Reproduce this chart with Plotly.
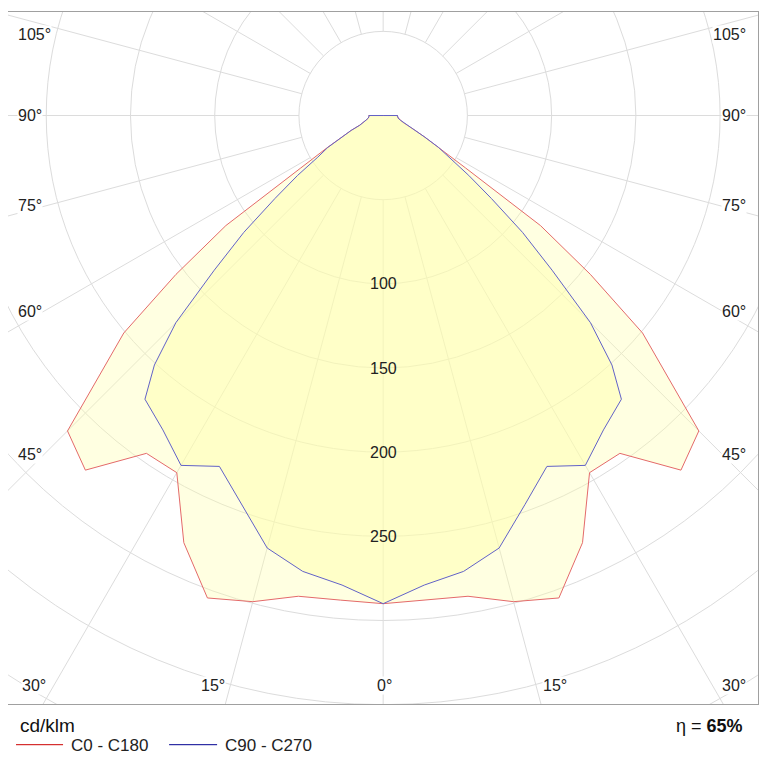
import numpy as np
import plotly.graph_objects as go

# luminous intensity (cd/klm), symmetric halves
gamma_c0 = [0, 5, 10, 15, 20, 25, 30, 35, 40, 45, 50, 52.5, 55, 57.5, 60,
            62.5, 65, 67.5, 70, 75, 80, 85, 90, 180]
cd_c0 = [290, 289, 290, 299, 305, 280, 245, 245, 275, 265, 201, 155, 114, 58, 39,
         28, 21, 15, 13, 10.5, 9, 8.5, 8.5, 0]

gamma_c90 = [0, 5, 10, 15, 20, 25, 30, 35, 40, 42.5, 45, 47.5, 50, 52.5, 55, 57.5,
             60, 62.5, 65, 67.5, 70, 75, 80, 85, 90, 180]
cd_c90 = [290, 280, 275, 266, 246, 230, 240, 228, 220, 201, 174, 136, 108, 81, 62, 46,
          38, 28, 21, 15, 13, 10.5, 9, 8.5, 8.5, 0]

grid_radii = [50, 100, 150, 200, 250, 300, 350, 400]
radial_labels = [100, 150, 200, 250]
spoke_angles = list(range(0, 360, 15))

FONT = "Liberation Sans, Arial, sans-serif"
GRID = "#dcdcdc"


def outline(gamma, cd):
    # 0 deg points down, C0/C90 on the right, C180/C270 mirrored on the left
    g = np.radians(gamma)
    r = np.asarray(cd, dtype=float)
    xr = r * np.sin(g)
    yr = -r * np.cos(g)
    x = np.concatenate([xr, -xr[::-1]])
    y = np.concatenate([yr, yr[::-1]])
    return x, y


fig = go.Figure()

x0, y0 = outline(gamma_c0, cd_c0)
fig.add_trace(go.Scatter(x=x0, y=y0, mode="lines", fill="toself",
                         fillcolor="rgba(255,255,170,0.35)",
                         line=dict(color="#e46a6a", width=1),
                         name="C0 - C180", showlegend=False, hoverinfo="skip"))
x90, y90 = outline(gamma_c90, cd_c90)
fig.add_trace(go.Scatter(x=x90, y=y90, mode="lines", fill="toself",
                         fillcolor="rgba(255,255,170,0.45)",
                         line=dict(color="#6262c8", width=1),
                         name="C90 - C270", showlegend=False, hoverinfo="skip"))

shapes = []
for r in grid_radii:
    shapes.append(dict(type="circle", xref="x", yref="y", x0=-r, x1=r, y0=-r, y1=r,
                       line=dict(color=GRID, width=1), layer="below"))
for a in spoke_angles:
    t = np.radians(a)
    shapes.append(dict(type="line", xref="x", yref="y",
                       x0=50 * np.sin(t), y0=-50 * np.cos(t),
                       x1=600 * np.sin(t), y1=-600 * np.cos(t),
                       line=dict(color=GRID, width=1), layer="below"))

# legend drawn by hand below the frame
shapes.append(dict(type="line", xref="paper", yref="paper", x0=0.0107, x1=0.0734,
                   y0=-0.0588, y1=-0.0588, line=dict(color="#cc0000", width=1)))
shapes.append(dict(type="line", xref="paper", yref="paper", x0=0.2148, x1=0.2788,
                   y0=-0.0588, y1=-0.0588, line=dict(color="#000090", width=1)))

annotations = []
for r in radial_labels:
    annotations.append(dict(x=0, y=-r, xref="x", yref="y", text=str(r), showarrow=False,
                            font=dict(size=16, color="#222", family=FONT)))

side_labels = [("105°", 48.4), ("90°", 0), ("75°", -53.7), ("60°", -116.7), ("45°", -201.6)]
for txt, yy in side_labels:
    annotations.append(dict(x=-217.3, y=yy, xref="x", yref="y", text=txt, showarrow=False,
                            xanchor="left", bgcolor="white", borderpad=0,
                            font=dict(size=16, color="#222", family=FONT)))
    annotations.append(dict(x=216.2, y=yy, xref="x", yref="y", text=txt, showarrow=False,
                            xanchor="right", bgcolor="white", borderpad=0,
                            font=dict(size=16, color="#222", family=FONT)))

bottom_labels = [("30°", -207), ("15°", -101), ("0°", 0.9), ("15°", 102), ("30°", 208.4)]
for txt, xx in bottom_labels:
    annotations.append(dict(x=xx, y=-338.8, xref="x", yref="y", text=txt, showarrow=False,
                            bgcolor="white", borderpad=0,
                            font=dict(size=16, color="#222", family=FONT)))

annotations += [
    dict(x=0.0133, y=-0.0313, xref="paper", yref="paper", text="cd/klm", showarrow=False,
         xanchor="left", yanchor="middle", font=dict(size=19, color="#111", family=FONT)),
    dict(x=0.983, y=-0.0313, xref="paper", yref="paper", text="η = <b>65%</b>",
         showarrow=False, xanchor="right", yanchor="middle",
         font=dict(size=18, color="#111", family=FONT)),
    dict(x=0.0814, y=-0.0602, xref="paper", yref="paper", text="C0 - C180", showarrow=False,
         xanchor="left", yanchor="middle", font=dict(size=17, color="#222", family=FONT)),
    dict(x=0.2868, y=-0.0602, xref="paper", yref="paper", text="C90 - C270", showarrow=False,
         xanchor="left", yanchor="middle", font=dict(size=17, color="#222", family=FONT)),
]

# page body adds an 8px offset, margins compensate so the frame sits like the original
fig.update_layout(
    width=767, height=767,
    margin=dict(l=0, r=17, t=4, b=71),
    paper_bgcolor="white", plot_bgcolor="white",
    showlegend=False,
    shapes=shapes, annotations=annotations,
    xaxis=dict(range=[-222.7, 222.5], showgrid=False, zeroline=False, showticklabels=False,
               ticks="", showline=True, mirror=True, linecolor="#a0a0a0", linewidth=1),
    yaxis=dict(range=[-349.6, 61.5], showgrid=False, zeroline=False, showticklabels=False,
               ticks="", showline=True, mirror=True, linecolor="#a0a0a0", linewidth=1),
)

fig.write_html("out.html")
